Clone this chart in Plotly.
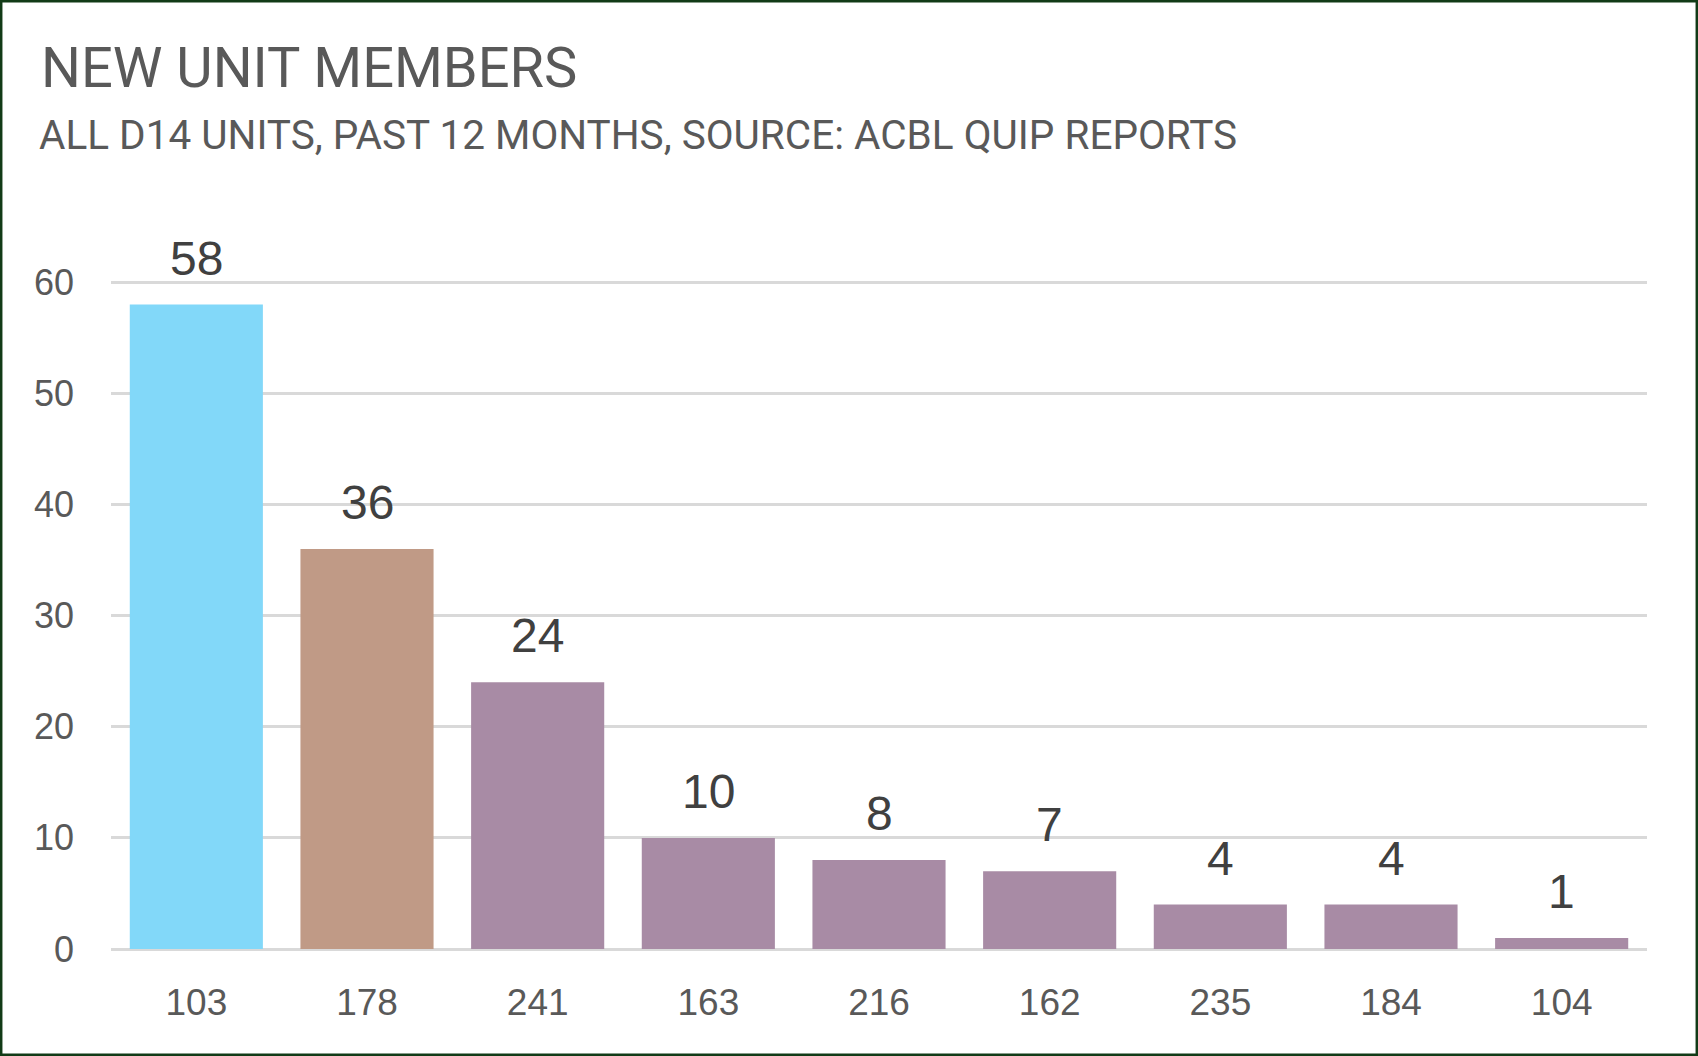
import plotly.graph_objects as go

units = ["103", "178", "241", "163", "216", "162", "235", "184", "104"]
new_members = [58, 36, 24, 10, 8, 7, 4, 4, 1]
bar_colors = ["#82D8F9", "#C09A86", "#A88BA5", "#A88BA5", "#A88BA5",
              "#A88BA5", "#A88BA5", "#A88BA5", "#A88BA5"]
y_ticks = [0, 10, 20, 30, 40, 50, 60]

title_text = "NEW UNIT MEMBERS"
subtitle_text = "ALL D14 UNITS, PAST 12 MONTHS, SOURCE: ACBL QUIP REPORTS"

W, H = 1698, 1056
L, R, T, B = 111, 51, 279, 107
PW, PH = W - L - R, H - T - B


def px_x(px):
    return (px - L) / PW


def px_y(py):
    return (H - B - py) / PH


fig = go.Figure()
fig.add_trace(go.Bar(
    x=units, y=new_members,
    marker=dict(color=bar_colors, line=dict(width=0)),
    hoverinfo="skip",
))

annotations = []
for i, v in enumerate(new_members):
    annotations.append(dict(
        x=i, y=v, xref="x", yref="y", text=str(v), showarrow=False,
        yanchor="bottom", yshift=18,
        font=dict(family="Liberation Sans, Arial, sans-serif", size=48, color="#404040"),
    ))

annotations.append(dict(
    x=px_x(39), y=px_y(33), xref="paper", yref="paper", text=title_text,
    showarrow=False, xanchor="left", yanchor="top",
    font=dict(family="Roboto, sans-serif", size=56, color="#595959"),
))
annotations.append(dict(
    x=px_x(37), y=px_y(109), xref="paper", yref="paper", text=subtitle_text,
    showarrow=False, xanchor="left", yanchor="top",
    font=dict(family="Roboto, sans-serif", size=40.5, color="#595959"),
))

fig.update_layout(
    width=W, height=H,
    margin=dict(l=L, r=R, t=T, b=B, autoexpand=False),
    paper_bgcolor="white", plot_bgcolor="white",
    showlegend=False,
    bargap=0.22,
    annotations=annotations,
    shapes=[dict(
        type="rect", xref="paper", yref="paper",
        x0=px_x(1.2), x1=px_x(W - 1.2), y0=px_y(H - 1.2), y1=px_y(1.2),
        line=dict(color="#123B17", width=2.5), fillcolor="rgba(0,0,0,0)",
        layer="above",
    )],
    xaxis=dict(
        type="category", range=[-0.5, len(units) - 0.5],
        showgrid=False, showline=False, zeroline=False, tickangle=0,
        ticks="", automargin=False, ticklabelstandoff=28,
        tickfont=dict(family="Liberation Sans, Arial, sans-serif", size=37, color="#595959"),
    ),
    yaxis=dict(
        range=[0, 60.3], tickvals=y_ticks, ticktext=[str(t) for t in y_ticks],
        showgrid=True, gridcolor="#D9D9D9", gridwidth=2.5,
        zeroline=True, zerolinecolor="#D9D9D9", zerolinewidth=2.5,
        showline=False, ticks="", automargin=False, ticklabelstandoff=36,
        tickfont=dict(family="Liberation Sans, Arial, sans-serif", size=36, color="#595959"),
    ),
)

fig.write_html("out.html", config={"displayModeBar": False},
               post_script="document.body.style.margin='0';")
